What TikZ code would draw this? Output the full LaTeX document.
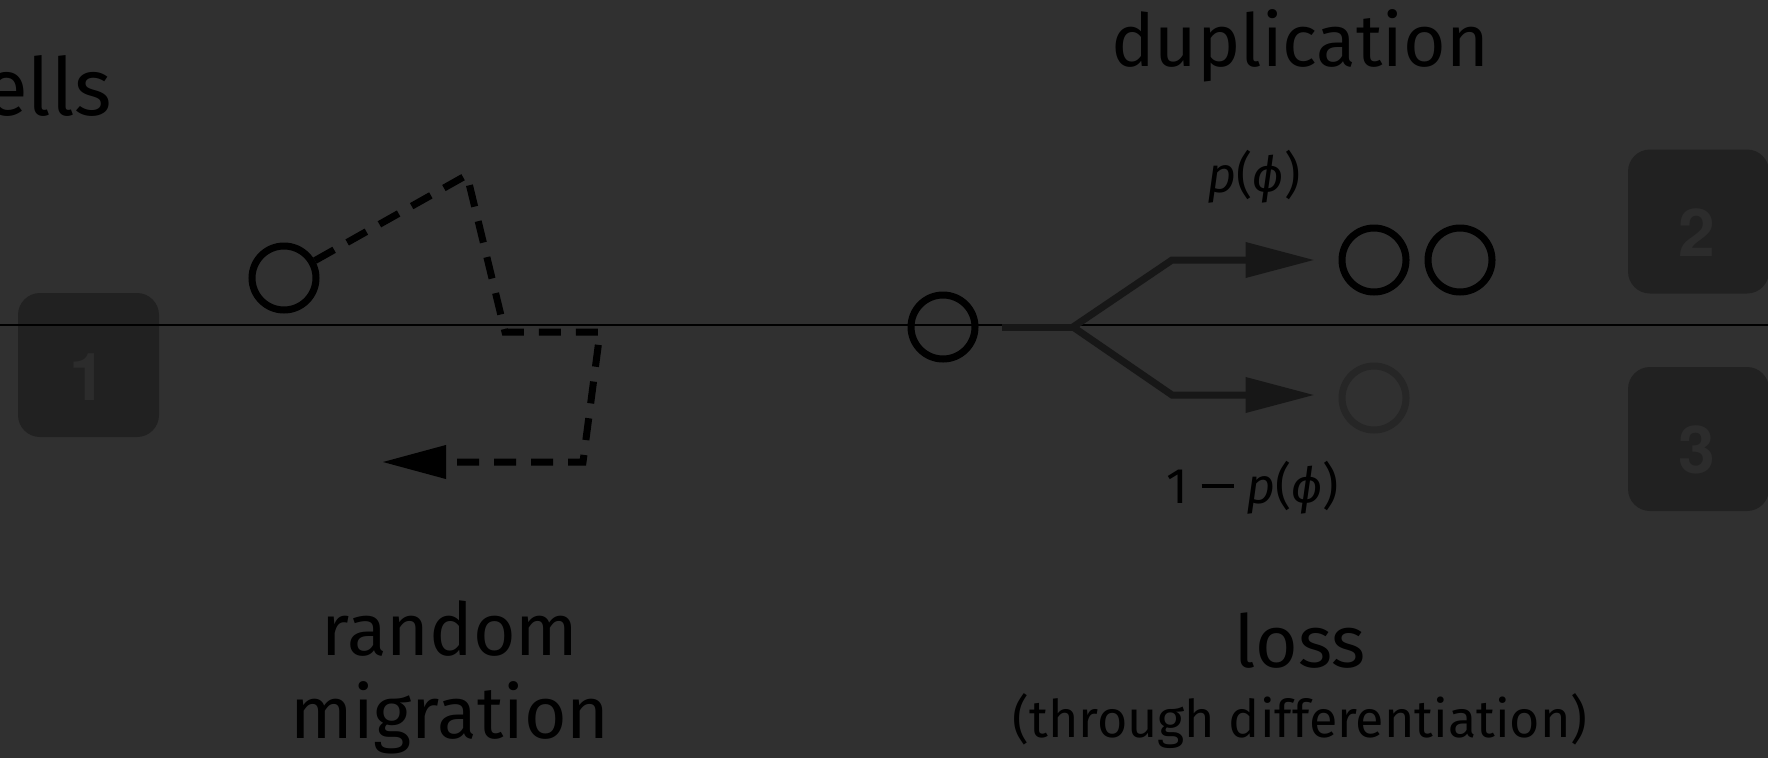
\documentclass[tikz,border=0pt]{standalone}
\usepackage{fontspec}
\setmainfont{Fira Sans}
\newfontfamily\digitfont{TeX Gyre Heros}
\usetikzlibrary{arrows.meta}
\definecolor{bgcol}{HTML}{303030}
\definecolor{boxcol}{HTML}{212121}
\definecolor{digitcol}{HTML}{2C2C2C}
\definecolor{arrowcol}{HTML}{171717}
\definecolor{fadedcol}{HTML}{262626}
% long minus sign on the maths axis
\newcommand{\longminus}{\hspace{13pt}\rule[16pt]{32pt}{3.5pt}\hspace{13pt}}
\tikzset{
  txt/.style={inner sep=0pt, anchor=base, text=black},
  bigtxt/.style={txt, font=\fontsize{73}{86}\selectfont},
  cell/.style={circle, draw=black, line width=7pt, minimum size=64pt, inner sep=0pt},
  numbox/.style={rounded corners=22pt, fill=boxcol, minimum width=141pt, minimum height=144pt, inner sep=0pt},
  digit/.style={txt, text=digitcol, font=\digitfont\bfseries\fontsize{66}{70}\selectfont},
  walk/.style={draw=black, line width=7pt, dash pattern=on 22pt off 15pt,
    -{Triangle[length=64pt,width=32pt]}},
  branch/.style={draw=arrowcol, line width=7pt},
  prob/.style={inner sep=0pt, text=black, font=\fontsize{50}{56}\selectfont},
}
\begin{document}
\begin{tikzpicture}[x=1pt,y=-1pt]
\fill[bgcol] (0,0) rectangle (1768,758);
\useasboundingbox (0,0) rectangle (1768,758);

% step badges
\node[numbox] (b1) at (88.5,365) {};
\node[digit] (n1) at (88,400) {1};
\node[numbox] (b2) at (1698.5,221.5) {};
\node[digit] (n2) at (1697,256) {2};
\node[numbox] (b3) at (1698.5,439) {};
\node[digit] (n3) at (1697,473) {3};

% heading
\node[txt, anchor=base east, font=\fontsize{80}{92}\selectfont] (head) at (112,115) {cells};

% divider
\coordinate (hl) at (0,325);
\coordinate (hr) at (1768,325);
\draw[black, line width=1.3pt] (hl) -- (hr);

% random migration
\node[cell] (m0) at (284,278) {};
\coordinate (w1) at (467,175);
\coordinate (w2) at (505,332);
\coordinate (w3) at (600,332);
\coordinate (w4) at (583,462);
\coordinate (w5) at (382,462);
\draw[walk] (m0) -- (w1) -- (w2) -- (w3) -- (w4) -- (w5);
\node[bigtxt] (mig1) at (450,655) {random};
\node[bigtxt] (mig2) at (450,738) {migration};

% duplication or loss
\node[cell] (d0) at (943,327) {};
\node[cell] (d1) at (1374,260) {};
\node[cell] (d2) at (1460,260) {};
\node[cell, draw=fadedcol] (d3) at (1374,398) {};
\coordinate (fork) at (1073,327);
\coordinate (u1) at (1172,260);
\coordinate (l1) at (1172,395);
\draw[branch] ([xshift=23pt]d0.east) -- (fork);
\draw[branch, -{Triangle[length=69pt,width=34pt]}, shorten >=24pt] (fork) -- (u1) -- (d1.west);
\draw[branch, -{Triangle[length=69pt,width=34pt]}, shorten >=24pt] (fork) -- (l1) -- (l1 -| d3.west);
\node[prob] (pu) at (1254,177) {\textit{p}(\textit{ϕ})};
\node[prob] (pl) at (1253,488) {1\longminus\textit{p}(\textit{ϕ})};

\node[bigtxt] (dup) at (1300,66) {duplication};
\node[bigtxt] (loss) at (1300,667) {loss};
\node[txt, font=\fontsize{52}{60}\selectfont] (lossnote) at (1300,737) {(through differentiation)};
\end{tikzpicture}
\end{document}
